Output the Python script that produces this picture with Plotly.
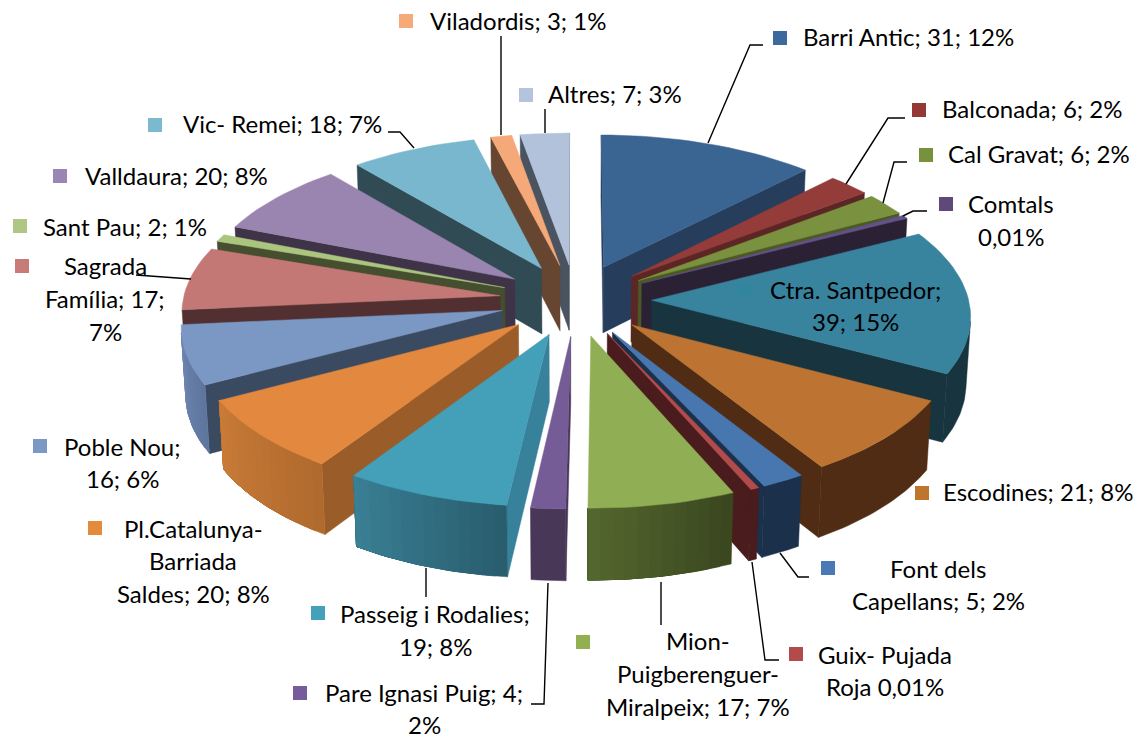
import math
import plotly.graph_objects as go

# ---------- data ----------
categories = ["Barri Antic", "Balconada", "Cal Gravat", "Comtals", "Ctra. Santpedor", "Escodines",
              "Font dels Capellans", "Guix- Pujada Roja", "Mion-Puigberenguer-Miralpeix",
              "Pare Ignasi Puig", "Passeig i Rodalies", "Pl.Catalunya-Barriada Saldes", "Poble Nou",
              "Sagrada Família", "Sant Pau", "Valldaura", "Vic- Remei", "Viladordis", "Altres"]
values = [31, 6, 6, 1, 39, 21, 5, 1, 17, 4, 19, 20, 16, 17, 2, 20, 18, 3, 7]

top_colors = ["#3A6491", "#943C3A", "#7A923F", "#64508A", "#38839E", "#BD7433", "#4877B0", "#B24B49",
              "#90AE54", "#755C97", "#44A0B8", "#E2883F", "#7B98C4", "#C47876", "#ABC57F", "#9A84B0",
              "#78B7CD", "#F5A878", "#B3C2DB"]
wall_colors = ["#263D5C", "#5C2624", "#4A5A25", "#2B2135", "#17343F", "#4F2C13", "#1B304A", "#4A1C1E",
               "#3A471F", "#483757", "#37819A", "#9A5D29", "#3A4A60", "#523032", "#454F30", "#3F3348",
               "#304B53", "#664531", "#4A5360"]
rim_start = ["#263D5C", "#5C2624", "#4A5A25", "#2B2135", "#17343F", "#4F2C13", "#1B304A", "#4A1C1E",
             "#3A471F", "#483757", "#295D6E", "#B06A2E", "#5E769E", "#8F5553", "#454F30", "#3F3348",
             "#304B53", "#664531", "#4A5360"]
rim_end = ["#263D5C", "#5C2624", "#4A5A25", "#2B2135", "#17343F", "#4F2C13", "#1B304A", "#4A1C1E",
           "#55682F", "#483757", "#3A8095", "#C97B37", "#7189B3", "#A56361", "#454F30", "#3F3348",
           "#304B53", "#664531", "#4A5360"]

key_colors = ["#3D6A9C", "#953735", "#76923C", "#5F497A", "#31859C", "#C0752F", "#4A7AB5", "#B24B49",
              "#92B050", "#775C9C", "#45A0BA", "#E48A3C", "#7C99C6", "#C77C7A", "#AFC783", "#9B85B2",
              "#7BB9CF", "#F5AA7A", "#B5C4DD"]

label_lines = [
    ["Barri Antic; 31; 12%"], ["Balconada; 6; 2%"], ["Cal Gravat; 6; 2%"], ["Comtals", "0,01%"],
    ["Ctra. Santpedor;", "39; 15%"], ["Escodines; 21; 8%"], ["Font dels", "Capellans; 5; 2%"],
    ["Guix- Pujada", "Roja 0,01%"], ["Mion-", "Puigberenguer-", "Miralpeix; 17; 7%"],
    ["Pare Ignasi Puig; 4;", "2%"], ["Passeig i Rodalies;", "19; 8%"],
    ["Pl.Catalunya-", "Barriada", "Saldes; 20; 8%"], ["Poble Nou;", "16; 6%"],
    ["Sagrada", "Família; 17;", "7%"], ["Sant Pau; 2; 1%"], ["Valldaura; 20; 8%"],
    ["Vic- Remei; 18; 7%"], ["Viladordis; 3; 1%"], ["Altres; 7; 3%"],
]

# ---------- layout of labels (page pixels) ----------
label_center_x = [908, 1032, 1039, 1011, 855, 1038, 938, 885, 698, 424, 435, 193, 122, 105, 125, 176, 282, 518, 615]
label_first_y = [36, 108, 153, 203, 289, 491, 568, 654, 640, 692, 613, 528, 446, 265, 226, 175, 123, 20, 93]
line_steps = [0, 0, 0, 33, 32, 0, 32, 32, 33, 32, 33, 32.5, 32, 33, 0, 0, 0, 0, 0]
key_center_x = [780, 919, 926, 946, 745, 922, 828, 796, 583, 300, 318, 95, 40, 22, 20, 60, 155, 406, 526]
key_center_y = [38, 110, 155, 204, 290, 493, 568, 654, 642, 693, 613, 528, 446, 266, 226, 176, 125, 21, 95]
KEY = 14

leaders = [
    [(708, 143), (750, 45), (763, 45)], [(846, 184), (888, 118), (905, 118)],
    [(883, 203), (894, 162), (907, 162)], [(903, 216), (913, 211), (927, 211)],
    [(780, 553), (798, 577), (809, 577)], [(752, 562), (765, 660), (779, 660)],
    [(661, 582), (661, 625)], [(548, 583), (544, 704), (531, 704)], [(426, 568), (426, 597)],
    [(136, 275), (191, 279)], [(414, 148), (400, 132), (388, 132)], [(501, 36), (501, 135)],
    [(545, 109), (545, 133)],
]

# ---------- projection ----------
CX, CY = 575.5, 300.0
B = 317.0
ELEV = math.radians(28.2)
DIST = 9.8
EXPLODE = 0.24
HEIGHT = 0.24


def project(x, y, z):
    s, c = math.sin(ELEV), math.cos(ELEV)
    u = -y * s + z * c
    w = y * c + z * s
    k = B / (1 - w / DIST)
    return CX + x * k, CY - u * k


def shoelace(pts):
    return sum(pts[i][0] * pts[(i + 1) % len(pts)][1] - pts[(i + 1) % len(pts)][0] * pts[i][1]
               for i in range(len(pts)))


def mix(c1, c2, t):
    a = [int(c1[i:i + 2], 16) for i in (1, 3, 5)]
    b = [int(c2[i:i + 2], 16) for i in (1, 3, 5)]
    return "#" + "".join(f"{round(p + (q - p) * t):02X}" for p, q in zip(a, b))


fig = go.Figure()


def poly(pts, color):
    fig.add_trace(go.Scatter(x=[p[0] for p in pts] + [pts[0][0]], y=[p[1] for p in pts] + [pts[0][1]],
                             mode="lines", fill="toself", fillcolor=color,
                             line=dict(color=color, width=0.5), hoverinfo="skip", showlegend=False))


total = sum(values)
slices = []
acc = 0.0
for i, v in enumerate(values):
    a1 = acc / total * 2 * math.pi
    acc += v
    a2 = acc / total * 2 * math.pi
    slices.append((i, a1, a2, (a1 + a2) / 2))

# back slices first
slices.sort(key=lambda t: -math.cos(t[3]))

for i, a1, a2, mid in slices:
    ox, oy = EXPLODE * math.sin(mid), -EXPLODE * math.cos(mid)

    def rim(a, z):
        return project(ox + math.sin(a), oy - math.cos(a), z)

    apex_t, apex_b = project(ox, oy, 0), project(ox, oy, -HEIGHT)
    # side walls
    q = [apex_t, rim(a1, 0), rim(a1, -HEIGHT), apex_b]
    if shoelace(q) < 0:
        poly(q, wall_colors[i])
    q = [rim(a2, 0), apex_t, apex_b, rim(a2, -HEIGHT)]
    if shoelace(q) < 0:
        poly(q, wall_colors[i])
    # outer wall: each band is painted over the previous one, so no seams show
    steps = max(2, int((a2 - a1) / math.radians(1.0)))
    angs = [a1 + (a2 - a1) * j / steps for j in range(steps + 1)]
    vis = [j for j in range(steps)
           if shoelace([rim(angs[j], 0), rim(angs[j + 1], 0), rim(angs[j + 1], -HEIGHT), rim(angs[j], -HEIGHT)]) < 0]
    if vis:
        first, last = vis[0], vis[-1] + 1
        if rim_start[i] == rim_end[i]:
            starts = [first]
        else:
            starts = list(range(first, last, 2))
        for j in starts:
            seg = angs[j:last + 1]
            q = [rim(a, 0) for a in seg] + [rim(a, -HEIGHT) for a in reversed(seg)]
            poly(q, mix(rim_start[i], rim_end[i], (j + 0.5) / steps))
    # top
    m = max(2, int((a2 - a1) / math.radians(2)))
    top = [apex_t] + [rim(a1 + (a2 - a1) * j / m, 0) for j in range(m + 1)]
    poly(top, top_colors[i])

for path in leaders:
    fig.add_trace(go.Scatter(x=[p[0] for p in path], y=[p[1] for p in path], mode="lines",
                             line=dict(color="#000000", width=1.4), hoverinfo="skip", showlegend=False))

shapes = []
for i in range(len(categories)):
    shapes.append(dict(type="rect", xref="x", yref="y", layer="above", line=dict(width=0),
                       fillcolor=key_colors[i],
                       x0=key_center_x[i] - KEY / 2, x1=key_center_x[i] + KEY / 2,
                       y0=key_center_y[i] - KEY / 2, y1=key_center_y[i] + KEY / 2))

annotations = []
for i, lines in enumerate(label_lines):
    for n, t in enumerate(lines):
        annotations.append(dict(x=label_center_x[i], y=label_first_y[i] + n * line_steps[i], text=t,
                                xref="x", yref="y", xanchor="center", yanchor="middle", showarrow=False,
                                font=dict(family="Lato", size=24, color="#000000")))

fig.update_layout(width=1144, height=740, margin=dict(l=0, r=0, t=0, b=0),
                  paper_bgcolor="#FFFFFF", plot_bgcolor="#FFFFFF", showlegend=False,
                  xaxis=dict(range=[0, 1144], visible=False, fixedrange=True),
                  yaxis=dict(range=[740, 0], visible=False, fixedrange=True),
                  shapes=shapes, annotations=annotations)

fig.write_html("out.html", config={"displayModeBar": False},
               post_script="document.body.style.margin='0';document.body.style.overflow='hidden';")
